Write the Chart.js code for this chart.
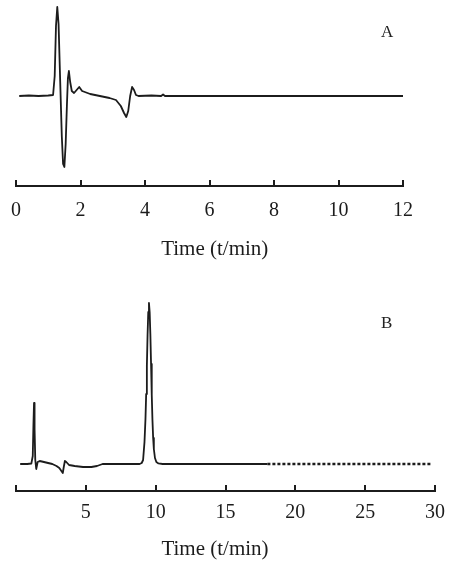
<!DOCTYPE html>
<html>
<head>
<meta charset="utf-8">
<script src="https://cdn.jsdelivr.net/npm/chart.js@4.4.1/dist/chart.umd.min.js"></script>
<style>
  html, body { margin: 0; padding: 0; background: #fff; }
  body { width: 451px; height: 573px; position: relative; overflow: hidden; }
  .box { position: absolute; left: 0; width: 451px; }
  #boxA { top: 0; height: 270px; }
  #boxB { top: 270px; height: 303px; }
  .panel { position: absolute; font-family: "Liberation Serif", serif; font-size: 17px; color: #222; }
</style>
</head>
<body>
<div class="box" id="boxA"><canvas id="chartA"></canvas></div>
<div class="box" id="boxB"><canvas id="chartB"></canvas></div>
<div class="panel" style="left:381px; top:22px;">A</div>
<div class="panel" style="left:381px; top:313px;">B</div>
<script>
// ---- Data (time in min, detector signal in arbitrary units) ----
const timeA = [0.1, 0.4, 0.7, 1.0, 1.15, 1.2, 1.24, 1.28, 1.32, 1.37,
               1.42, 1.46, 1.5, 1.54, 1.58, 1.61, 1.64, 1.68, 1.73, 1.8,
               1.88, 1.96, 2.05, 2.3, 2.6, 2.9, 3.1, 3.25, 3.35, 3.42,
               3.48, 3.54, 3.6, 3.66, 3.72, 3.8, 4.2, 4.5, 4.56, 4.62,
               5.0, 6.0, 8.0, 10.0, 12.0];
const signalA = [0, 0.5, 0, 0.5, 1, 20, 70, 89, 72, 15,
                 -40, -68, -71, -48, -8, 18, 25, 14, 5, 3,
                 6, 9, 5, 2, 0, -2, -4, -10, -17, -21,
                 -15, 0, 9, 6, 1, 0, 0.5, 0, 1.5, 0,
                 0, 0, 0, 0, 0];

const timeB = [0.3, 0.8, 1.1, 1.2, 1.25, 1.29, 1.33, 1.38, 1.45, 1.55,
               1.7, 2.0, 2.3, 2.6, 2.9, 3.1, 3.25, 3.35, 3.42, 3.5,
               3.6, 3.8, 4.2, 4.8, 5.4, 5.8, 6.2, 8.0, 8.85, 9.0,
               9.1, 9.2, 9.27, 9.32, 9.37, 9.42, 9.47, 9.52, 9.57, 9.62,
               9.67, 9.72, 9.77, 9.82, 9.87, 9.95, 10.05, 10.2, 10.5, 14.0,
               18.0, 29.7];
const signalB = [0, 0, 0.5, 8, 40, 61, 35, 4, -5, 2,
                 3, 2, 1, 0, -2, -4, -7, -9, -3, 3,
                 2, -1, -2, -3, -3, -2, 0, 0, 0, 1,
                 4, 22, 45, 70, 98, 129, 152, 161, 152, 130,
                 100, 69, 44, 26, 15, 6, 2, 0.6, 0, 0,
                 0, 0];

const ticksA = [0, 2, 4, 6, 8, 10, 12];
const ticksB = [0, 5, 10, 15, 20, 25, 30];
const hiddenTickLabelsB = [0];
const noisyFromB = 18;
const axisTitleA = '  Time (t/min)';
const axisTitleB = 'Time (t/min)    ';

// ---- Charts ----
const FONT = '"Liberation Serif", "Times New Roman", serif';
const INK = '#1c1c1c';

function xScale(ticks, pad, titlePadTop, hidden, titleText) {
  return {
    type: 'linear',
    min: ticks[0],
    max: ticks[ticks.length - 1],
    afterBuildTicks: (s) => { s.ticks = ticks.map(v => ({ value: v })); },
    afterFit: (s) => { s.paddingLeft = 0; s.paddingRight = 0; },
    border: { display: true, color: INK, width: 2 },
    grid: { display: true, drawOnChartArea: false, drawTicks: true, tickLength: -6, color: INK, lineWidth: 2 },
    ticks: {
      color: INK, padding: pad, maxRotation: 0, autoSkip: false,
      font: { family: FONT, size: 20 },
      callback: (v) => (hidden && hidden.includes(v)) ? '' : String(v)
    },
    title: { display: true, text: titleText, color: INK, font: { family: FONT, size: 21 }, padding: { top: titlePadTop, bottom: 0 } }
  };
}

function makeChart(id, time, signal, ticks, yMin, yMax, pad, titlePadTop, layoutPad, titleText, hidden, noisyFrom) {
  return new Chart(document.getElementById(id), {
    type: 'line',
    data: {
      datasets: [{
        data: time.map((t, i) => ({ x: t, y: signal[i] })),
        borderColor: INK,
        borderWidth: 1.8,
        pointRadius: 0,
        tension: 0,
        fill: false,
        borderJoinStyle: 'round',
        segment: noisyFrom === undefined ? {} : {
          borderDash: (ctx) => ctx.p0.parsed.x >= noisyFrom ? [3, 2] : undefined,
          borderWidth: (ctx) => ctx.p0.parsed.x >= noisyFrom ? 2.6 : undefined
        }
      }]
    },
    options: {
      responsive: true,
      maintainAspectRatio: false,
      animation: false,
      events: [],
      layout: { padding: layoutPad },
      plugins: { legend: { display: false }, tooltip: { enabled: false }, title: { display: false } },
      scales: {
        x: xScale(ticks, pad, titlePadTop, hidden, titleText),
        y: { type: 'linear', display: false, min: yMin, max: yMax }
      }
    }
  });
}

makeChart('chartA', timeA, signalA, ticksA, -90, 94, 19, -5,
          { left: 16, right: 48, top: 2, bottom: 7.8 }, axisTitleA);
makeChart('chartB', timeB, signalB, ticksB, -27, 168, 15.5, -3,
          { left: 16, right: 16, top: 26, bottom: 10.8 }, axisTitleB, hiddenTickLabelsB, noisyFromB);
</script>
</body>
</html>
